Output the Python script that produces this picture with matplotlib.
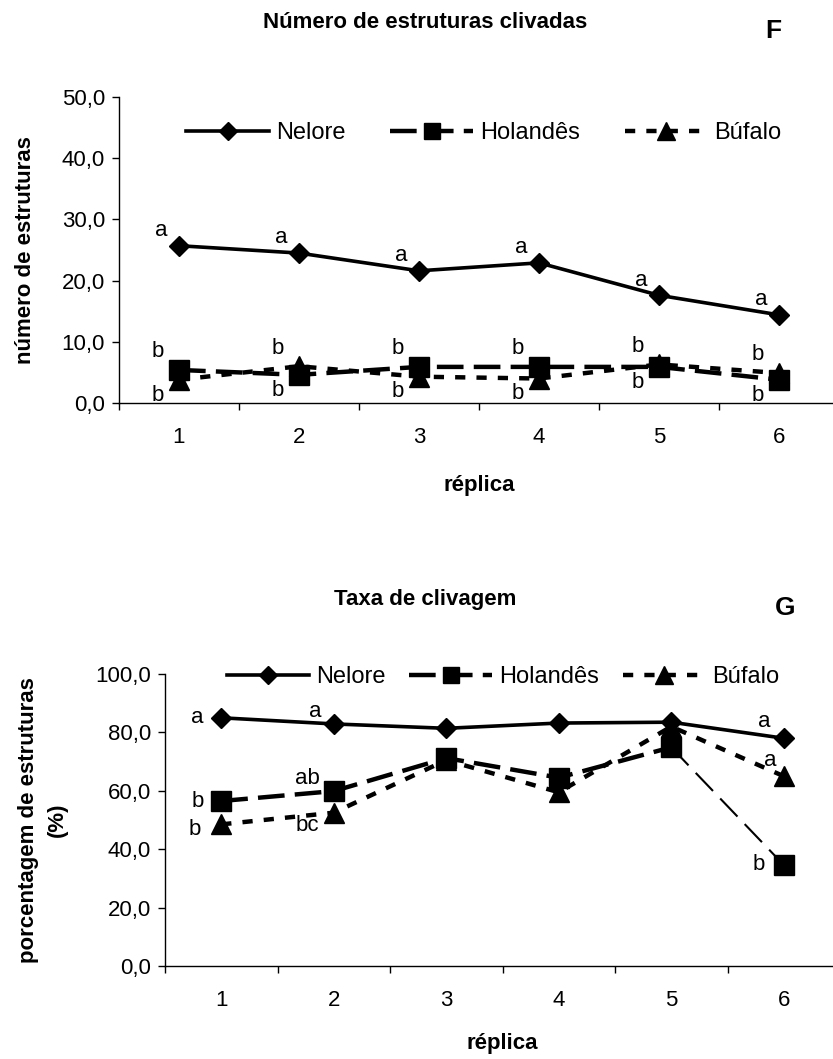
import numpy as np
import matplotlib
matplotlib.use('Agg')
import matplotlib.pyplot as plt
from matplotlib.ticker import FuncFormatter

plt.rcParams['font.family'] = ['Liberation Sans', 'DejaVu Sans']

W, H = 833, 1059

replicas = [1, 2, 3, 4, 5, 6]
series = ['Nelore', 'Holandês', 'Búfalo']

# F: número de estruturas clivadas
num_nelore = [25.7, 24.5, 21.6, 22.9, 17.6, 14.4]
num_holandes = [5.4, 4.6, 5.9, 5.9, 5.9, 3.8]
num_bufalo = [3.8, 6.0, 4.3, 4.0, 6.3, 4.9]
num_let_nelore = ['a', 'a', 'a', 'a', 'a', 'a']
num_let_holandes = ['b', 'b', 'b', 'b', 'b', 'b']
num_let_bufalo = ['b', 'b', 'b', 'b', 'b', 'b']

# G: taxa de clivagem (%)
tx_nelore = [85.0, 82.9, 81.4, 83.2, 83.5, 78.0]
tx_holandes = [56.5, 59.9, 71.2, 64.5, 74.9, 34.6]
tx_bufalo = [48.5, 52.5, 70.5, 59.5, 82.0, 65.0]
tx_let_nelore = ['a', 'a', '', '', '', 'a']
tx_let_holandes = ['b', 'ab', '', '', '', 'b']
tx_let_bufalo = ['b', 'bc', '', '', '', 'a']

# label offsets for chart G (points)
off_g_nelore = [(-17, 0), (-13, 9), (0, 0), (0, 0), (0, 0), (-14, 12)]
off_g_holandes = [(-17, 0), (-19, 9), (0, 0), (0, 0), (0, 0), (-18, 0)]
off_g_bufalo = [(-19, -4), (-19, -9), (0, 0), (0, 0), (0, 0), (-10, 11)]

FS = 16
sty_nel = dict(color='black', lw=2.6, ls='-', marker='D', ms=10.5)
sty_hol = dict(color='black', lw=3.2, dashes=(6, 2.3), marker='s', ms=14)
sty_buf = dict(color='black', lw=3.2, dashes=(2.3, 2.5), marker='^', ms=15)


def fx(px):
    return px / W


def fy(py):
    return 1 - py / H


def style_axes(ax, ymax, ystep):
    ax.set_xlim(0.5, 6.5)
    ax.set_ylim(0, ymax)
    ax.set_xticks(replicas)
    ax.set_xticklabels([str(r) for r in replicas])
    ax.set_xticks(np.arange(0.5, 7.0, 1.0), minor=True)
    ax.tick_params(axis='x', which='major', length=0, pad=17, labelsize=FS)
    ax.tick_params(axis='x', which='minor', length=5, width=1, direction='out')
    ax.set_yticks(np.arange(0, ymax + 1, ystep))
    ax.yaxis.set_major_formatter(FuncFormatter(lambda v, p: f'{v:.1f}'.replace('.', ',')))
    ax.tick_params(axis='y', length=5, width=1, pad=5, direction='out', labelsize=FS)
    for s in ['top', 'right']:
        ax.spines[s].set_visible(False)
    for s in ['left', 'bottom']:
        ax.spines[s].set_linewidth(1)
    ax.patch.set_visible(False)


def label(ax, x, y, txt, off):
    if txt:
        ax.annotate(txt, (x, y), xytext=off, textcoords='offset points',
                    ha='center', va='center', fontsize=FS)


fig = plt.figure(figsize=(W / 100, H / 100), dpi=100)

# ---------- F ----------
ax1 = fig.add_axes([fx(119), fy(403), 720 / W, 306 / H])
l1, = ax1.plot(replicas, num_nelore, **sty_nel)
l2, = ax1.plot(replicas, num_holandes, **sty_hol)
l3, = ax1.plot(replicas, num_bufalo, **sty_buf)
for i, x in enumerate(replicas):
    label(ax1, x, num_nelore[i], num_let_nelore[i], (-13, 11))
    hi = num_holandes[i] >= num_bufalo[i]
    label(ax1, x, num_holandes[i], num_let_holandes[i], (-15, 13) if hi else (-15, -11))
    label(ax1, x, num_bufalo[i], num_let_bufalo[i], (-15, -11) if hi else (-15, 13))
style_axes(ax1, 50, 10)
ax1.text(0.5, -0.268, 'réplica', transform=ax1.transAxes, ha='center', va='center',
         fontsize=FS, fontweight='bold')
ax1.legend([l1, l2, l3], series, ncol=3, frameon=False, loc='center',
           bbox_to_anchor=(fx(484), fy(133)), bbox_transform=fig.transFigure,
           fontsize=17, handlelength=3.5, handletextpad=0.3, columnspacing=1.9,
           numpoints=1, borderpad=0, borderaxespad=0, markerscale=0.85)

fig.text(fx(425), fy(22), 'Número de estruturas clivadas', ha='center', va='center',
         fontsize=16, fontweight='bold')
fig.text(fx(773), fy(31), 'F', ha='center', va='center', fontsize=19, fontweight='bold')
fig.text(fx(26), fy(250), 'número de estruturas', rotation=90, ha='center', va='center',
         fontsize=FS, fontweight='bold')

# ---------- G ----------
ax2 = fig.add_axes([fx(165), fy(966), 675 / W, 292 / H])
m1, = ax2.plot(replicas, tx_nelore, **sty_nel)
m2, = ax2.plot(replicas[:5], tx_holandes[:5], **sty_hol)
ax2.plot(replicas[4:], tx_holandes[4:], color='black', lw=1.5, dashes=(12, 5))
ax2.plot(replicas[5:], tx_holandes[5:], ls='none', marker='s', ms=14, color='black')
m3, = ax2.plot(replicas, tx_bufalo, **sty_buf)
for i, x in enumerate(replicas):
    label(ax2, x, tx_nelore[i], tx_let_nelore[i], off_g_nelore[i])
    label(ax2, x, tx_holandes[i], tx_let_holandes[i], off_g_holandes[i])
    label(ax2, x, tx_bufalo[i], tx_let_bufalo[i], off_g_bufalo[i])
style_axes(ax2, 100, 20)
ax2.text(0.5, -0.264, 'réplica', transform=ax2.transAxes, ha='center', va='center',
         fontsize=FS, fontweight='bold')
ax2.legend([m1, m2, m3], series, ncol=3, frameon=False, loc='center',
           bbox_to_anchor=(fx(503), fy(677)), bbox_transform=fig.transFigure,
           fontsize=17, handlelength=3.5, handletextpad=0.3, columnspacing=1.0,
           numpoints=1, borderpad=0, borderaxespad=0, markerscale=0.85)

fig.text(fx(425), fy(600), 'Taxa de clivagem', ha='center', va='center',
         fontsize=16, fontweight='bold')
fig.text(fx(785), fy(608), 'G', ha='center', va='center', fontsize=19, fontweight='bold')
fig.text(fx(43), fy(820), 'porcentagem de estruturas\n(%)', rotation=90, ha='center',
         va='center', multialignment='center', linespacing=1.5, fontsize=FS,
         fontweight='bold')

fig.savefig('out.png', dpi=100)
